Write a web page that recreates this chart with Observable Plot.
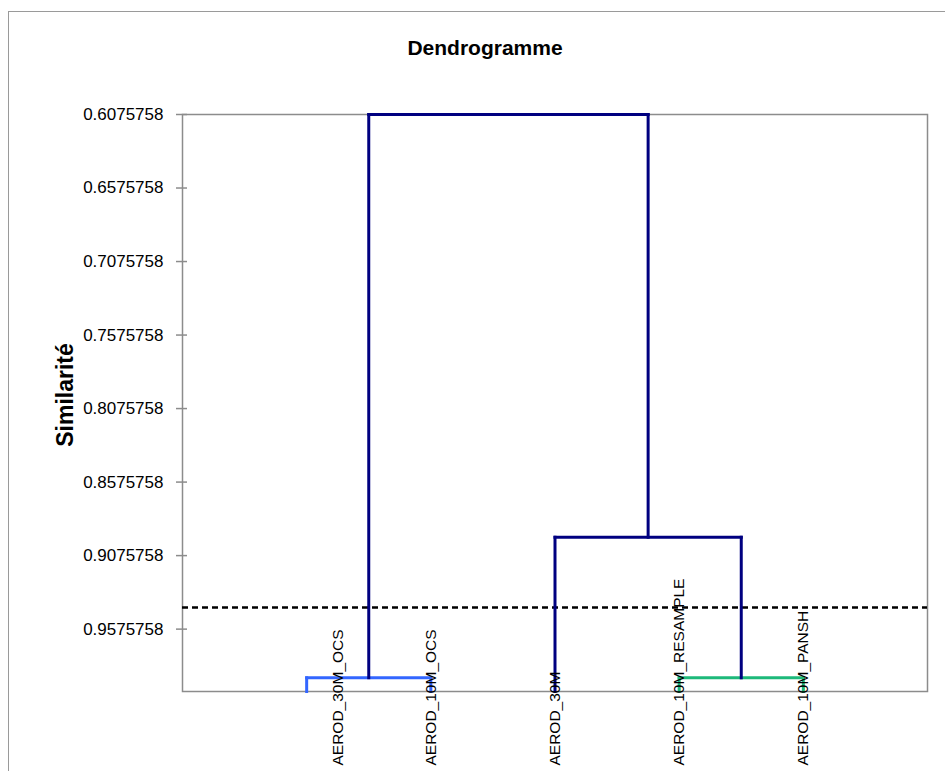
<!DOCTYPE html>
<html>
<head>
<meta charset="utf-8">
<script src="https://cdn.jsdelivr.net/npm/d3@7"></script>
<script src="https://cdn.jsdelivr.net/npm/@observablehq/plot@0.6"></script>
<style>
  html, body { margin: 0; padding: 0; background: #fff; }
  #wrap { position: relative; width: 945px; height: 771px; overflow: hidden; }
  #outer { position: absolute; left: 8px; top: 11px; width: 1000px; height: 1000px; border-left: 1.5px solid #9a9a9a; border-top: 1.5px solid #9a9a9a; }
  #chart { position: absolute; left: 0; top: 0; }
</style>
</head>
<body>
<div id="wrap"><div id="outer"></div><div id="chart"></div></div>
<script>
// ---- data ----
const title = "Dendrogramme";
const yTitle = "Similarité";
const tickLabels = ["0.6075758", "0.6575758", "0.7075758", "0.7575758", "0.8075758", "0.8575758", "0.9075758", "0.9575758"];
const leafNames = ["AEROD_30M_OCS", "AEROD_10M_OCS", "AEROD_30M", "AEROD_10M_RESAMPLE", "AEROD_10M_PANSH"];
const leafOrder = [1, 2, 3, 4, 5];          // position along x
const leafLabelX = [1.25, 2, 3, 4, 5];      // where each label sits (x units)
const leafSimilarity = 1;                   // leaves sit at similarity 1
// merges: children refer to "L<i>" (leaf) or "M<i>" (merge)
const mergeLeft = ["L0", "L3", "L2", "M0"];
const mergeRight = ["L1", "L4", "M1", "M2"];
const mergeSimilarity = [0.9907, 0.9907, 0.8951, 0.6075758];
const mergeColor = ["#3366ff", "#1db97a", "#000080", "#000080"];
const cutLevel = 0.9429;
const yDomain = [0.6075758, 1];
const xDomain = [0, 6];

// ---- build segments ----
const nodes = {};
leafNames.forEach((n, i) => nodes["L" + i] = {x: leafOrder[i], y: leafSimilarity});
const segments = [];
mergeLeft.forEach((l, i) => {
  const a = nodes[l], b = nodes[mergeRight[i]], h = mergeSimilarity[i], c = mergeColor[i];
  segments.push({x1: a.x, y1: a.y, x2: a.x, y2: h, color: c});
  segments.push({x1: b.x, y1: b.y, x2: b.x, y2: h, color: c});
  segments.push({x1: a.x, y1: h, x2: b.x, y2: h, color: c});
  nodes["M" + i] = {x: (a.x + b.x) / 2, y: h};
});
const tickValues = tickLabels.map(Number);
const fmt = new Map(tickValues.map((v, i) => [v, tickLabels[i]]));
const labels = leafNames.map((n, i) => ({name: n, x: leafLabelX[i]}));

const plot = Plot.plot({
  width: 945,
  height: 771,
  marginTop: 114,
  marginBottom: 80,
  marginLeft: 182,
  marginRight: 18,
  style: {fontFamily: "'Liberation Sans', Arial, sans-serif", background: "transparent"},
  x: {domain: xDomain, axis: null},
  y: {domain: yDomain, reverse: true, axis: null},
  color: {type: "identity"},
  marks: [
    Plot.frame({stroke: "#8c8c8c", strokeWidth: 1.5}),
    Plot.ruleY(tickValues, {y: d => d, x1: 0, x2: 0, insetLeft: -6, insetRight: -5, stroke: "#8c8c8c", strokeWidth: 1.5}),
    Plot.axisY({ticks: tickValues, tickSize: 0, tickPadding: 19, tickFormat: d => fmt.get(d), fontSize: 17, fill: "#000", label: null}),
    Plot.ruleY([cutLevel], {stroke: "#000", strokeWidth: 2.5, strokeDasharray: "6,4"}),
    Plot.link(segments, {x1: "x1", y1: "y1", x2: "x2", y2: "y2", stroke: "color", strokeWidth: 3, strokeLinecap: "square"}),
    Plot.text(labels, {x: "x", y: () => leafSimilarity, text: "name", rotate: -90, textAnchor: "start", lineAnchor: "middle", dy: 74, fontSize: 15.5, fill: "#000"}),
    Plot.text([title], {frameAnchor: "top", dx: -70, dy: -66, textAnchor: "middle", lineAnchor: "middle", fontSize: 21, fontWeight: "bold", fill: "#000"}),
    Plot.text([yTitle], {frameAnchor: "left", dx: -117, dy: -8, rotate: -90, textAnchor: "middle", lineAnchor: "middle", fontSize: 23, fontWeight: "bold", fill: "#000"})
  ]
});
document.getElementById("chart").appendChild(plot);
</script>
</body>
</html>
